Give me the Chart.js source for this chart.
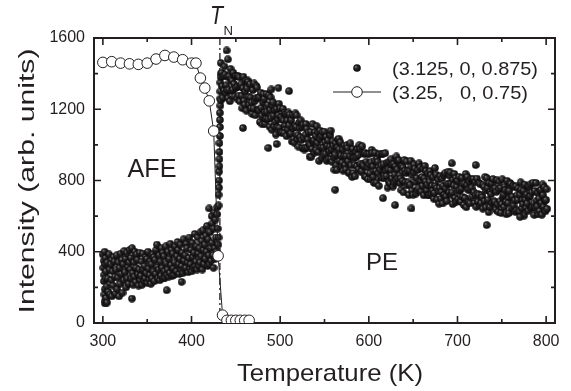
<!DOCTYPE html>
<html>
<head>
<meta charset="utf-8">
<title>Intensity vs temperature</title>
<script src="https://cdn.jsdelivr.net/npm/chart.js@4.4.0/dist/chart.umd.min.js"></script>
<style>
  html, body { margin: 0; padding: 0; background: #fff; }
  #chart { display: block; }
</style>
</head>
<body>
<canvas id="chart" width="571" height="391"></canvas>
<script>
'use strict';

// (3.25, 0, 0.75) - open circles joined by a line
var circleT = [300, 310, 320, 330, 340, 350, 360, 370, 380, 390, 400, 405, 410, 415, 420, 425, 430, 435, 440, 445, 450, 455, 460, 465];
var circleI = [1463, 1467, 1459, 1455, 1452, 1459, 1482, 1502, 1493, 1478, 1459, 1459, 1375, 1319, 1247, 1078, 377, 44, 15, 15, 15, 15, 15, 15];

// (3.125, 0, 0.875) - rows of [T, I, I, ...] read off the cloud,
// the readings of a row are taken one after another over the next ~2 K
var afeRows = [
	[300, 385, 310, 235, 160, 110], [301, 350, 270, 190, 125], [302, 400, 330, 250, 140], [303, 365, 290, 205, 115],
	[305, 340, 250, 175], [307, 385, 300, 160], [309, 330, 240, 150], [311, 290, 210, 370],
	[313, 345, 260, 165], [315, 300, 380, 190], [317, 255, 340, 150], [319, 310, 220, 390],
	[321, 275, 355, 170], [323, 330, 240, 405], [325, 285, 360, 200], [327, 395, 250, 315],
	[329, 220, 340, 410], [331, 300, 365, 250, 137], [333, 420, 280, 215], [335, 340, 260, 400],
	[337, 230, 310, 385], [339, 355, 275, 210], [341, 300, 395, 240], [343, 265, 345, 215],
	[345, 390, 300, 235], [347, 320, 250, 370], [349, 280, 360, 225], [351, 400, 305, 245],
	[353, 270, 345, 220], [355, 330, 250, 385], [357, 290, 370, 235], [359, 355, 275, 410],
	[361, 440, 315, 250], [363, 300, 380, 240], [365, 345, 265, 420], [367, 310, 395, 250],
	[369, 375, 290, 255], [371, 430, 335, 270], [372, 184], [373, 300, 400, 260], [375, 360, 280, 445],
	[377, 325, 410, 265], [379, 390, 305, 270], [381, 340, 430, 290], [383, 290, 375, 455],
	[385, 410, 330, 275], [387, 360, 440, 300, 231], [389, 320, 395, 280], [391, 470, 350, 300],
	[393, 380, 310, 445], [395, 420, 340, 285], [397, 365, 480, 305], [399, 330, 410, 290],
	[401, 450, 370, 310], [403, 395, 500, 320], [405, 345, 430, 300], [407, 480, 390, 320],
	[409, 420, 340, 510], [411, 375, 460, 300], [413, 520, 410, 330], [415, 440, 360, 490],
	[417, 400, 545, 320], [419, 470, 380, 330], [420, 643], [421, 510, 420, 350, 600],
	[423, 450, 560, 380, 310], [425, 530, 620, 420, 360], [427, 580, 480, 400, 650], [429, 610, 530, 440]
];

// the jump at the transition (one temperature per row)
var jumpRows = [
	[430.5, 660, 720, 480], [431, 760, 800, 850], [431.5, 880, 920, 960, 1010],
	[432, 1050, 1100, 1140, 1180], [432.5, 1220, 1260, 1300, 1350], [433, 1400, 1460, 1250, 1380]
];

var peRows = [
	[434, 1405, 1330, 1265], [436, 1385, 1305, 1440], [438, 1395, 1290, 1335], [440, 1307, 1382, 1262],
	[442, 1310, 1385, 1245], [444, 1427, 1367, 1302], [446, 1360, 1310, 1405], [448, 1342, 1272, 1387],
	[450, 1320, 1385, 1260], [452, 1327, 1387, 1277], [454, 1379, 1244, 1329], [456, 1341, 1276, 1206],
	[458, 1318, 1383, 1248], [460, 1225, 1300, 1360], [462, 1192, 1317, 1362], [464, 1354, 1269, 1224],
	[466, 1341, 1266, 1206], [468, 1238, 1173, 1308], [470, 1205, 1345, 1245], [472, 1166, 1261, 1331],
	[474, 1322, 1262, 1197], [476, 1193, 1268, 1128], [478, 1294, 1209, 1164], [480, 1115, 1240, 1285],
	[482, 1258, 1183, 1118], [484, 1146, 1286, 1186], [486, 1224, 1144, 1279], [488, 1102, 1197, 1267],
	[490, 1150, 1085, 1220], [492, 1239, 1164, 1104], [494, 1193, 1128, 1058], [496, 1202, 1097, 1142],
	[498, 1166, 1231, 1096], [500, 1205, 1070, 1155], [502, 1068, 1143, 1203], [504, 1136, 1066, 1181],
	[506, 1109, 1174, 1049], [508, 1137, 1087, 1182], [510, 1110, 1170, 1060], [512, 1064, 1139, 1019],
	[514, 1168, 1093, 1033], [516, 1012, 1107, 1177], [518, 1101, 1166, 1031], [520, 1055, 990, 1125],
	[522, 1093, 1043, 1138], [524, 1026, 1101, 981], [526, 1114, 1039, 974], [528, 982, 1057, 1117],
	[530, 1090, 985, 1030], [532, 1069, 1004, 934], [534, 998, 1073, 933], [536, 977, 1117, 1017],
	[538, 1026, 956, 1071], [540, 1050, 970, 1105], [542, 1010, 1070, 960], [544, 910, 1035, 1080],
	[546, 985, 1050, 925], [548, 1070, 985, 940], [550, 1075, 1015, 950], [552, 1045, 910, 995],
	[554, 1025, 920, 965], [556, 990, 1055, 920], [558, 975, 905, 1020], [560, 995, 930, 860],
	[562, 945, 1010, 885], [564, 860, 985, 1030], [566, 1035, 975, 910], [568, 1015, 940, 880],
	[570, 900, 975, 855], [572, 936, 996, 886], [574, 862, 937, 997], [576, 983, 908, 843],
	[578, 844, 939, 1009], [580, 885, 960, 820], [582, 977, 842, 927], [584, 889, 824, 959],
	[586, 931, 881, 976], [588, 943, 863, 998], [590, 980, 895, 850], [592, 852, 992, 892],
	[594, 884, 949, 824], [596, 956, 821, 906], [598, 948, 873, 808], [600, 890, 950, 840],
	[602, 807, 902, 972], [604, 954, 879, 819], [606, 786, 911, 956], [608, 853, 788, 923],
	[610, 905, 840, 770], [612, 947, 862, 817], [614, 884, 949, 814], [616, 951, 891, 826],
	[618, 813, 953, 853], [620, 825, 900, 760], [622, 862, 792, 907], [624, 784, 859, 919],
	[626, 811, 886, 766], [628, 893, 788, 833], [630, 880, 800, 935], [632, 862, 812, 907],
	[634, 914, 829, 784], [636, 811, 746, 881], [638, 798, 873, 733], [640, 915, 855, 790],
	[642, 842, 907, 772], [644, 854, 789, 719], [646, 856, 776, 911], [648, 878, 743, 828],
	[650, 720, 845, 890], [652, 867, 792, 727], [654, 814, 744, 859], [656, 756, 896, 796],
	[658, 873, 798, 738], [660, 820, 770, 865], [662, 717, 812, 882], [664, 794, 854, 744],
	[666, 776, 841, 716], [668, 718, 793, 853], [670, 830, 725, 770], [672, 743, 818, 698],
	[674, 730, 870, 770], [676, 833, 758, 693], [678, 805, 740, 670], [680, 758, 823, 698],
	[682, 736, 811, 671], [684, 769, 829, 719], [686, 841, 756, 711], [688, 684, 779, 849],
	[690, 782, 732, 827], [692, 845, 785, 720], [694, 733, 668, 803], [696, 772, 837, 702],
	[698, 815, 680, 765], [700, 798, 693, 738], [702, 821, 746, 686], [704, 680, 755, 815],
	[706, 708, 783, 663], [708, 782, 702, 837], [710, 650, 775, 820], [712, 748, 678, 793],
	[714, 672, 747, 807], [716, 760, 710, 805], [718, 809, 734, 674], [720, 792, 717, 652],
	[722, 811, 726, 681], [724, 720, 785, 660], [726, 778, 673, 718], [728, 707, 642, 777],
	[730, 765, 685, 820], [732, 649, 744, 814], [734, 757, 692, 622], [736, 786, 651, 736],
	[738, 724, 784, 674], [740, 808, 748, 683], [742, 682, 757, 637], [744, 736, 801, 666],
	[746, 624, 749, 794], [748, 683, 758, 618], [750, 667, 807, 707], [752, 721, 651, 766],
	[754, 745, 680, 610], [756, 798, 738, 673], [758, 617, 742, 787], [760, 781, 706, 646],
	[762, 710, 770, 660], [764, 764, 689, 624], [766, 767, 632, 717], [768, 691, 756, 631],
	[770, 625, 720, 790], [772, 749, 644, 689], [774, 668, 743, 603], [776, 777, 692, 647],
	[778, 721, 671, 766], [780, 630, 705, 765], [782, 714, 779, 644], [784, 733, 653, 788],
	[786, 672, 607, 742], [788, 646, 786, 686], [790, 655, 730, 610], [792, 699, 629, 744],
	[794, 748, 673, 608], [796, 778, 718, 653], [798, 762, 687, 627], [800, 691, 751, 641]
];

// lone points away from the main cloud
var strayPoints = [
	[439.6, 1530], [441, 1480], [458, 1095], [486.6, 983], [496, 1005], [510, 1302], [498, 1320],
	[490, 1311], [557, 1080], [562, 748], [616, 701], [733, 550], [693.6, 897], [720.6, 887],
	[770.6, 596], [629.6, 662], [648, 643]
];

var xTicks = [300, 400, 500, 600, 700, 800];
var xMinor = [350, 450, 550, 650, 750];
var yTicks = [0, 400, 800, 1200, 1600];
var yMinor = [200, 600, 1000, 1400];
var tN = 432;
var rowStep = 0.6; // K between successive readings inside a row

var ink = '#231f20';
var fam = '"Liberation Sans", Arial, Helvetica, sans-serif';

(function(){

	// small shaded ball used as the point marker
	var makeBall = function(d){
		var c = document.createElement('canvas');
		c.width = d; c.height = d;
		var g = c.getContext('2d');
		var r = d / 2;
		var grad = g.createRadialGradient(r * 0.65, r * 0.65, 0, r, r, r);
		grad.addColorStop(0, '#8c8a8a');
		grad.addColorStop(0.35, '#2c2a2a');
		grad.addColorStop(1, '#070606');
		g.fillStyle = grad;
		g.beginPath();
		g.arc(r, r, r - 0.2, 0, Math.PI * 2);
		g.fill();
		return c;
	};
	var ball = makeBall(8);

	// turn rows into {x, y} points
	var cloud = [];
	var addRows = function(rows, step){
		rows.forEach(function(row){
			for (var k = 1; k < row.length; k++) cloud.push({x: row[0] + (k - 1) * step, y: row[k]});
		});
	};
	addRows(afeRows, rowStep);
	addRows(jumpRows, 0);
	addRows(peRows, rowStep);
	strayPoints.forEach(function(p){ cloud.push({x: p[0], y: p[1]}); });

	var circles = circleT.map(function(t, i){ return {x: t, y: circleI[i]}; });

	// text squeezed/stretched to a given width
	var fitText = function(ctx, str, x, y, font, width, align, angle){
		ctx.save();
		ctx.font = font;
		var sx = width / ctx.measureText(str).width;
		ctx.translate(x, y);
		if (angle) ctx.rotate(angle);
		ctx.scale(sx, 1);
		ctx.textAlign = align;
		ctx.textBaseline = 'alphabetic';
		ctx.fillStyle = ink;
		ctx.fillText(str, 0, 0);
		ctx.restore();
	};

	var framePlugin = {
		id: 'frame',
		beforeDatasetsDraw: function(chart){
			var a = chart.chartArea, xs = chart.scales.x, ys = chart.scales.y, ctx = chart.ctx;
			ctx.save();
			ctx.strokeStyle = ink;

			// dash-dot line at T_N
			var px = xs.getPixelForValue(tN);
			ctx.lineWidth = 1.3;
			ctx.setLineDash([7, 3, 2, 3]);
			ctx.beginPath();
			ctx.moveTo(px, a.top);
			ctx.lineTo(px, a.bottom);
			ctx.stroke();
			ctx.setLineDash([]);

			// box
			ctx.lineWidth = 2;
			ctx.strokeRect(a.left, a.top, a.right - a.left, a.bottom - a.top);

			// inward ticks on all four sides
			ctx.lineWidth = 1.6;
			ctx.beginPath();
			var tx = function(v, len){
				var p = xs.getPixelForValue(v);
				ctx.moveTo(p, a.bottom); ctx.lineTo(p, a.bottom - len);
				ctx.moveTo(p, a.top); ctx.lineTo(p, a.top + len);
			};
			var ty = function(v, len){
				var p = ys.getPixelForValue(v);
				ctx.moveTo(a.left, p); ctx.lineTo(a.left + len, p);
				ctx.moveTo(a.right, p); ctx.lineTo(a.right - len, p);
			};
			xTicks.forEach(function(v){ tx(v, 7); });
			xMinor.forEach(function(v){ tx(v, 4); });
			yTicks.forEach(function(v){ ty(v, 7); });
			yMinor.forEach(function(v){ ty(v, 4); });
			ctx.stroke();
			ctx.restore();
		},
		afterDraw: function(chart){
			var ctx = chart.ctx;

			// axis titles
			fitText(ctx, 'Temperature (K)', 330, 381, '24px ' + fam, 186, 'center');
			fitText(ctx, 'Intensity (arb. units)', 33.5, 181, '22px ' + fam, 265, 'center', -Math.PI / 2);

			// phase labels
			fitText(ctx, 'AFE', 152, 177, '25px ' + fam, 49, 'center');
			fitText(ctx, 'PE', 366, 270, '24px ' + fam, 32, 'left');

			// T_N above the dashed line
			fitText(ctx, 'T', 210, 24, 'italic 25px ' + fam, 13, 'left');
			fitText(ctx, 'N', 223.5, 34.5, '12px ' + fam, 9.5, 'left');

			// legend
			ctx.save();
			ctx.drawImage(ball, 357 - 4, 68 - 4);
			ctx.strokeStyle = ink;
			ctx.lineWidth = 1;
			ctx.beginPath();
			ctx.moveTo(333, 92); ctx.lineTo(381, 92);
			ctx.stroke();
			ctx.fillStyle = '#fff';
			ctx.beginPath();
			ctx.arc(357, 92, 5.3, 0, Math.PI * 2);
			ctx.fill();
			ctx.stroke();
			ctx.restore();
			fitText(ctx, '(3.125, 0, 0.875)', 392, 75, '19px ' + fam, 146, 'left');
			fitText(ctx, '(3.25,   0, 0.75)', 392, 99, '19px ' + fam, 136, 'left');
		}
	};

	var ctx = document.getElementById('chart').getContext('2d');
	new Chart(ctx, {
		type: 'scatter',
		data: {
			datasets: [
				{
					label: '(3.25, 0, 0.75)',
					data: circles,
					showLine: true,
					borderColor: ink,
					borderWidth: 1,
					pointStyle: 'circle',
					pointRadius: 5.3,
					pointBackgroundColor: '#fff',
					pointBorderColor: ink,
					pointBorderWidth: 1,
					tension: 0,
					order: 1
				},
				{
					label: '(3.125, 0, 0.875)',
					data: cloud,
					pointStyle: ball,
					pointRadius: 4,
					order: 2
				}
			]
		},
		options: {
			responsive: false,
			animation: false,
			devicePixelRatio: 1,
			layout: { padding: { top: 38, right: 16, left: 0, bottom: 0 } },
			plugins: {
				legend: { display: false },
				tooltip: { enabled: false }
			},
			scales: {
				x: {
					type: 'linear',
					min: 290,
					max: 810,
					grid: { display: false, drawTicks: false },
					border: { display: false },
					afterBuildTicks: function(s){ s.ticks = xTicks.map(function(v){ return {value: v}; }); },
					afterFit: function(s){ s.height = 68; },
					ticks: {
						color: ink,
						padding: 9,
						maxRotation: 0,
						font: { family: fam, size: 16 },
						callback: function(v){ return String(v); }
					}
				},
				y: {
					type: 'linear',
					min: 0,
					max: 1600,
					grid: { display: false, drawTicks: false },
					border: { display: false },
					afterBuildTicks: function(s){ s.ticks = yTicks.map(function(v){ return {value: v}; }); },
					afterFit: function(s){ s.width = 94; },
					ticks: {
						color: ink,
						padding: 9,
						font: { family: fam, size: 16 },
						callback: function(v){ return String(v); }
					}
				}
			}
		},
		plugins: [framePlugin]
	});

})();
</script>
</body>
</html>
